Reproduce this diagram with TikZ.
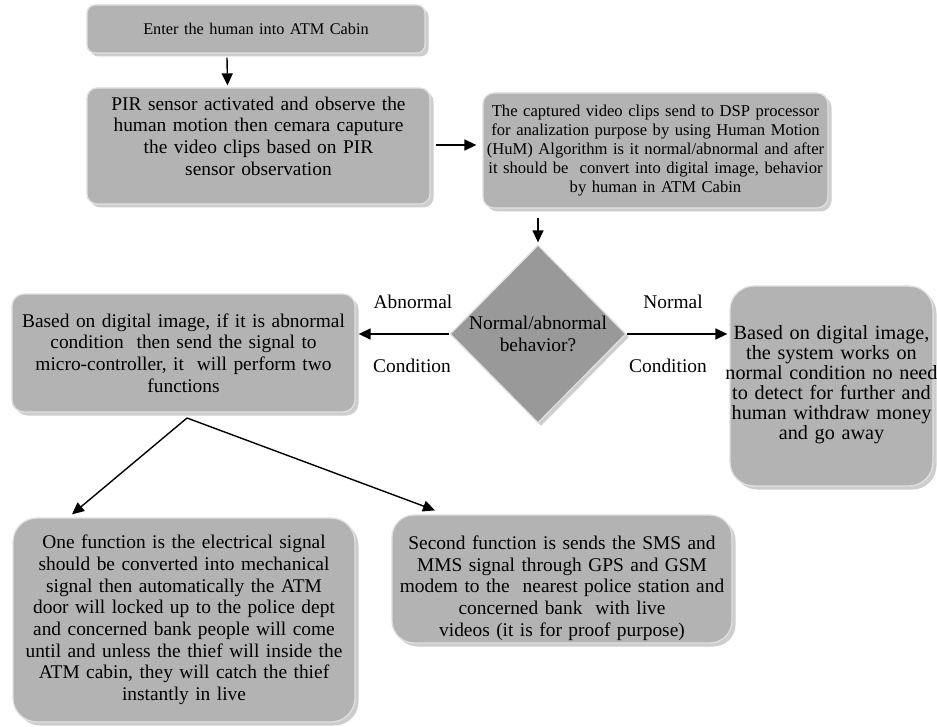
\documentclass[tikz,border=0pt]{standalone}
\usepackage{fontspec}
\setmainfont{Liberation Serif}
\usetikzlibrary{shapes.geometric,arrows.meta,shadows}
\definecolor{boxfill}{HTML}{B3B3B3}
\definecolor{boxline}{HTML}{E0E0E0}
\definecolor{shade}{HTML}{CDCDCD}
\definecolor{diafill}{HTML}{999999}
\begin{document}
\begin{tikzpicture}[x=1pt,y=-1pt,
  box/.style={draw=boxline, line width=1.3pt, fill=boxfill, align=center, inner sep=0pt,
    drop shadow={shadow xshift=3.5pt, shadow yshift=-3.5pt, fill=shade, opacity=1}},
  dia/.style={diamond, draw=boxline, line width=1.3pt, fill=diafill, align=center, inner sep=0pt,
    drop shadow={shadow xshift=3pt, shadow yshift=-3pt, fill=shade, opacity=1}},
  arr/.style={line width=1.4pt, -{Triangle[length=12pt,width=11pt]}},
  big/.style={font=\fontsize{19.4}{21.7}\selectfont},
  lbl/.style={font=\fontsize{19.4}{21.7}\selectfont, inner sep=0pt}
]
\useasboundingbox (0,0) rectangle (937,727);
\fill[white] (0,0) rectangle (937,727);

\node[box, rounded corners=8pt, text width=338pt, minimum height=48pt,
  font=\fontsize{16.3}{19}\selectfont] (b1) at (256,29) {Enter the human into ATM Cabin};

\node[box, big, rounded corners=10pt, text width=343pt, minimum height=116pt] (b2) at (258.5,146)
  {PIR sensor activated and observe the\\human motion then cemara caputure\\the video clips based on PIR\\sensor observation\rule[-20pt]{0pt}{0pt}};

\node[box, rounded corners=11pt, text width=345pt, minimum height=115pt,
  font=\fontsize{16.6}{19}\selectfont] (b3) at (655.5,150.5)
  {The captured video clips send to DSP processor\\for analization purpose by using Human Motion\\(HuM) Algorithm is it normal/abnormal and after\\it should be\ \ convert into digital image, behavior\\by human in ATM Cabin};

\node[dia, big, minimum width=176pt, minimum height=178pt] (d) at (538,334)
  {Normal/abnormal\\behavior?};

\node[box, big, rounded corners=12pt, text width=343pt, minimum height=118pt] (b4) at (183.5,353)
  {Based on digital image, if it is abnormal\\condition\ \ then send the signal to\\micro-controller, it\ \ will perform two\\functions};

\node[box, rounded corners=24pt, text width=203pt, minimum height=200pt,
  font=\fontsize{20.2}{20}\selectfont] (b5) at (831.5,386)
  {Based on digital image,\\the system works on\\\makebox[\linewidth]{normal condition no need}\\to detect for further and\\human withdraw money\\and go away\rule[-8pt]{0pt}{0pt}};

\node[box, big, rounded corners=24pt, text width=342pt, minimum height=204pt] (b6) at (184,620)
  {One function is the electrical signal\\should be converted into mechanical\\signal then automatically the ATM\\door will locked up to the police dept\\and concerned bank people will come\\until and unless the thief will inside the\\ATM cabin, they will catch the thief\\instantly in live};

\node[box, big, rounded corners=22pt, text width=340pt, minimum height=128pt] (b7) at (562,579)
  {\rule{0pt}{32pt}Second function is sends the SMS and\\MMS signal through GPS and GSM\\modem to the\ \ nearest police station and\\concerned bank\ \ with live\\videos (it is for proof purpose)};

\node[lbl] (la) at (413,302) {Abnormal};
\node[lbl] (lc) at (412,366) {Condition};
\node[lbl] (ln) at (673,302) {Normal};
\node[lbl] (lc2) at (668,366) {Condition};

\coordinate (split) at (187,418);

\draw[arr] ([xshift=-29pt,yshift=-4pt]b1.south) -- ([xshift=-31pt,yshift=2pt]b2.north);
\draw[arr] ([xshift=5pt,yshift=1pt]b2.east) -- ([xshift=-6pt,yshift=1pt]b2.east -| b3.west);
\draw[arr] ([yshift=-9pt]b3.south -| d.north) -- ([yshift=2pt]d.north);
\draw[arr] (d.west) -- ([xshift=3pt]d.west -| b4.east);
\draw[arr] (d.east) -- ([xshift=-2pt]d.east -| b5.west);
\draw[arr] (split) -- ([xshift=-112pt,yshift=3pt]b6.north);
\draw[arr] (split) -- ([xshift=-127pt,yshift=4pt]b7.north);
\end{tikzpicture}
\end{document}
